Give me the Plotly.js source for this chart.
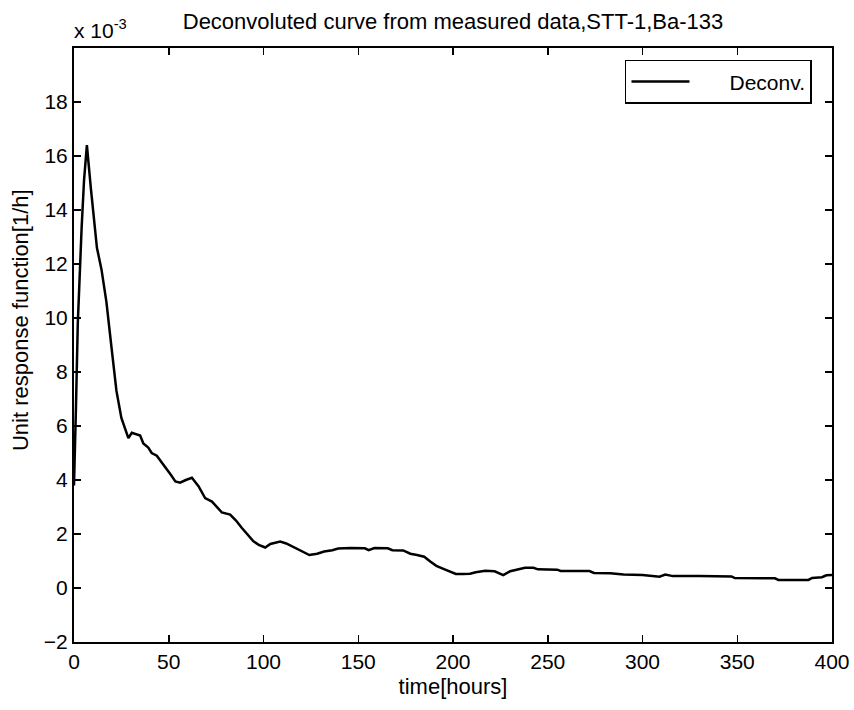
<!DOCTYPE html>
<html>
<head>
<meta charset="utf-8">
<script src="https://cdn.plot.ly/plotly-3.0.1.min.js"></script>
<style>html,body{margin:0;padding:0;background:#fff;}#chart{width:854px;height:710px;}</style>
</head>
<body>
<div id="chart"></div>
<script>
// time in hours
const timeHours = [0, 0.5, 1, 2, 3, 4, 5.3, 6.8, 8.9, 12.1, 14.5, 17.1, 19.8, 22.4, 25, 26.9, 28.7, 30.5, 34.9, 36.6,
  39.2, 41, 43.7, 46.3, 48.5, 51, 53.5, 56, 59, 62.2, 65.7, 69.2, 72.8, 78, 82.4, 85.5, 88.6, 92.1, 94.7, 97.5,
  100.9, 103.6, 108.8, 112, 116, 120, 124.2, 128.3, 132, 136.3, 139.4, 146, 153.5, 155.5, 158.5, 165.6, 168, 173.7, 177.5, 181,
  184.8, 188, 191.2, 195.9, 201.5, 205, 209, 212, 217, 222, 226.5, 230.2, 234, 238, 242.5, 244.8, 255, 256.8, 272, 274.4,
  283, 290, 300, 309, 312, 316, 330, 347, 348.7, 360, 369.9, 371.7, 387.6, 389.5, 394.7, 397, 400];
// unit response function [1/h], in units of 1e-3
const deconv = [3.8, 5.0, 6.6, 9.8, 11.8, 13.3, 15.1, 16.4, 14.8, 12.6, 11.8, 10.6, 8.9, 7.3, 6.3, 5.9, 5.55, 5.75, 5.65, 5.35,
  5.2, 5.0, 4.9, 4.65, 4.45, 4.2, 3.95, 3.9, 4.0, 4.08, 3.77, 3.33, 3.2, 2.8, 2.72, 2.5, 2.22, 1.95, 1.73, 1.6,
  1.5, 1.63, 1.72, 1.65, 1.5, 1.38, 1.22, 1.27, 1.35, 1.4, 1.46, 1.48, 1.47, 1.40, 1.48, 1.47, 1.40, 1.39, 1.27, 1.22,
  1.16, 0.98, 0.82, 0.68, 0.52, 0.52, 0.53, 0.58, 0.64, 0.62, 0.48, 0.62, 0.68, 0.75, 0.75, 0.69, 0.68, 0.63, 0.63, 0.56,
  0.55, 0.50, 0.48, 0.42, 0.50, 0.44, 0.44, 0.43, 0.37, 0.37, 0.36, 0.30, 0.30, 0.37, 0.40, 0.47, 0.48];
const xTicks = [0, 50, 100, 150, 200, 250, 300, 350, 400];
const yTicks = [-2, 0, 2, 4, 6, 8, 10, 12, 14, 16, 18];
const seriesName = 'Deconv.';

const FONT = "Liberation Sans, Arial, sans-serif";
const PAD = '\u00a0'.repeat(6);

const trace = {
  x: timeHours, y: deconv, type: 'scatter', mode: 'lines', name: PAD + seriesName,
  line: {color: '#000', width: 2.5}
};

const axisCommon = {
  showline: true, linecolor: '#000', linewidth: 2, mirror: 'ticks',
  ticks: 'inside', ticklen: 7, tickwidth: 1.5, tickcolor: '#000',
  showgrid: false, zeroline: false,
  tickfont: {family: FONT, size: 21, color: '#000'}
};

const layout = {
  width: 854, height: 710,
  paper_bgcolor: '#fff', plot_bgcolor: '#fff',
  margin: {l: 74, r: 22, t: 48, b: 68},
  font: {family: FONT, color: '#000'},
  title: {text: 'Deconvoluted curve from measured data,STT-1,Ba-133', font: {family: FONT, size: 22, color: '#000'},
    x: 0.5, xref: 'paper', xanchor: 'center', y: 1 - 21/710, yref: 'container', yanchor: 'middle'},
  xaxis: Object.assign({}, axisCommon, {range: [0, 400], tickvals: xTicks,
    title: {text: 'time[hours]', font: {family: FONT, size: 22, color: '#000'}, standoff: 6}}),
  yaxis: Object.assign({}, axisCommon, {range: [-2, 20], tickvals: yTicks}),
  showlegend: true,
  legend: {x: 0.9736, y: 0.98, xanchor: 'right', yanchor: 'top', bgcolor: '#fff', itemwidth: 58,
    bordercolor: '#000', borderwidth: 1.5, font: {family: FONT, size: 21, color: '#000'}},
  annotations: [
    {text: 'x 10<sup>-3</sup>', xref: 'paper', yref: 'paper', x: 0, y: 1, xanchor: 'left', yanchor: 'bottom',
      yshift: 4, xshift: -2, showarrow: false, font: {family: FONT, size: 21, color: '#000'}},
    {text: 'Unit response function[1/h]', xref: 'paper', yref: 'paper', x: 0, y: 0.542, xanchor: 'center', yanchor: 'middle',
      xshift: -54, textangle: -90, showarrow: false, font: {family: FONT, size: 22, color: '#000'}}
  ]
};

Plotly.newPlot('chart', [trace], layout, {displayModeBar: false, staticPlot: true});
</script>
</body>
</html>
